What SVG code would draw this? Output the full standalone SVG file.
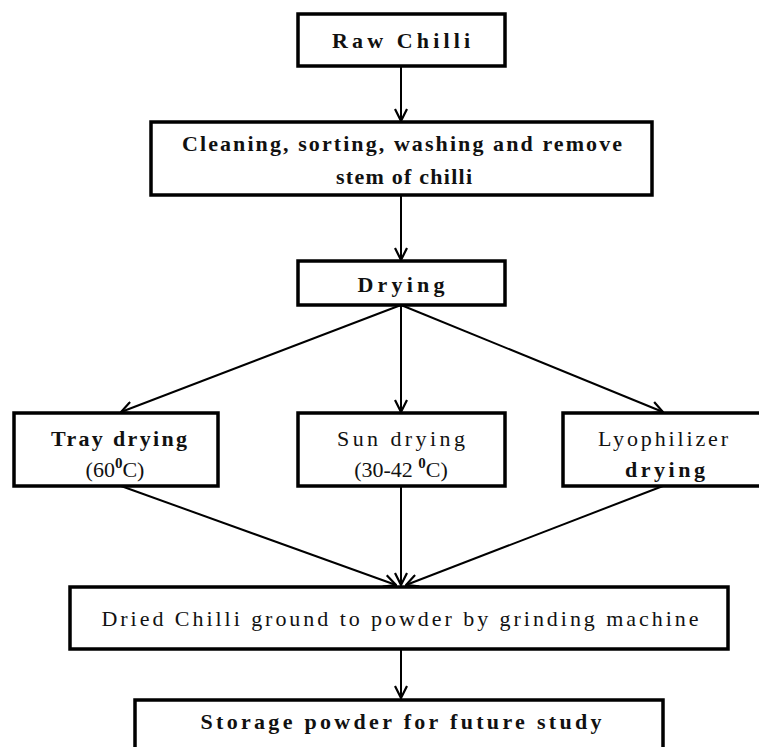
<svg xmlns="http://www.w3.org/2000/svg" width="759" height="747" viewBox="0 0 759 747">
<style>
.box{fill:#fff;stroke:#000;stroke-width:3.5}
.t{font-family:"Liberation Serif","Times New Roman",serif;font-size:22px;font-weight:bold;fill:#111;text-anchor:middle}
.n{font-weight:normal}
.c{stroke:#000;stroke-width:2;fill:none}
</style>
<defs>
<marker id="ar" viewBox="0 0 14 14" refX="13" refY="7" markerWidth="14" markerHeight="14" markerUnits="userSpaceOnUse" orient="auto">
<path d="M1,1 L13,7 L1,13" fill="none" stroke="#000" stroke-width="2.2"/>
</marker>
</defs>
<rect width="759" height="747" fill="#fff"/>
<g id="connectors">
<line class="c" x1="401" y1="66" x2="401" y2="121" marker-end="url(#ar)"/>
<line class="c" x1="401" y1="195" x2="401" y2="260" marker-end="url(#ar)"/>
<line class="c" x1="401" y1="305" x2="121" y2="412" marker-end="url(#ar)"/>
<line class="c" x1="401" y1="305" x2="401" y2="412" marker-end="url(#ar)"/>
<line class="c" x1="401" y1="305" x2="663" y2="412" marker-end="url(#ar)"/>
<line class="c" x1="121" y1="486" x2="396" y2="585" marker-end="url(#ar)"/>
<line class="c" x1="401" y1="486" x2="401" y2="585" marker-end="url(#ar)"/>
<line class="c" x1="663" y1="486" x2="406" y2="585" marker-end="url(#ar)"/>
<line class="c" x1="401" y1="649" x2="401" y2="698" marker-end="url(#ar)"/>
</g>
<g id="raw">
<rect class="box" x="298" y="14" width="207" height="52"/>
<text class="t" x="401" y="48" font-size="24" textLength="138" lengthAdjust="spacing">Raw Chilli</text>
</g>
<g id="cleaning">
<rect class="box" x="151" y="122" width="501" height="73"/>
<text class="t" x="402" y="151" textLength="440" lengthAdjust="spacing">Cleaning, sorting, washing and remove</text>
<text class="t" x="404" y="184" textLength="136" lengthAdjust="spacing">stem of chilli</text>
</g>
<g id="drying">
<rect class="box" x="298" y="261" width="207" height="44"/>
<text class="t" x="401" y="292" font-size="24" textLength="87" lengthAdjust="spacing">Drying</text>
</g>
<g id="tray">
<rect class="box" x="14" y="413" width="204" height="73"/>
<text class="t" x="119" y="446" textLength="136" lengthAdjust="spacing">Tray drying</text>
<text class="t n" x="115" y="477" font-size="23">(60<tspan font-size="15" font-weight="bold" dy="-9">0</tspan><tspan dy="9">C)</tspan></text>
</g>
<g id="sun">
<rect class="box" x="298" y="413" width="207" height="73"/>
<text class="t n" x="401" y="446" textLength="128" lengthAdjust="spacing">Sun drying</text>
<text class="t n" x="401" y="477" font-size="23">(30-42 <tspan font-size="15" font-weight="bold" dy="-9">0</tspan><tspan dy="9">C)</tspan></text>
</g>
<g id="lyophilizer">
<rect class="box" x="563" y="413" width="200" height="73"/>
<text class="t n" x="663" y="446" textLength="130" lengthAdjust="spacing">Lyophilizer</text>
<text class="t" x="665" y="477" textLength="80" lengthAdjust="spacing">drying</text>
</g>
<g id="dried">
<rect class="box" x="70" y="587" width="658" height="62"/>
<text class="t n" x="400" y="626" font-size="21" textLength="597" lengthAdjust="spacing">Dried Chilli ground to powder by grinding machine</text>
</g>
<g id="storage">
<rect class="box" x="135" y="700" width="528" height="60"/>
<text class="t" x="401" y="729" textLength="401" lengthAdjust="spacing">Storage powder for future study</text>
</g>
</svg>
